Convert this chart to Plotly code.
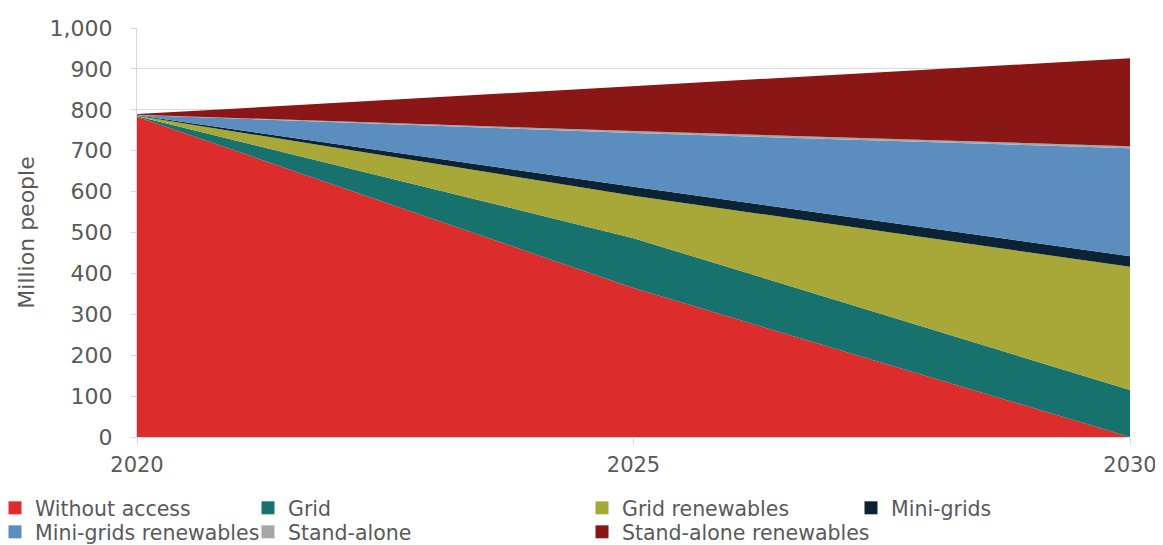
"""
Access to electricity outlook, 2020-2030 — stacked area by access pathway.
"""

import plotly.graph_objects as go

YEARS = [2020, 2025, 2030]

SERIES_NAMES = [
    "Without access",
    "Grid",
    "Grid renewables",
    "Mini-grids",
    "Mini-grids renewables",
    "Stand-alone",
    "Stand-alone renewables",
]

# million people
WITHOUT_ACCESS = [783, 364, 0]
GRID = [1.5, 122, 115]
GRID_RENEWABLES = [1, 104, 301]
MINI_GRIDS = [1, 22, 26]
MINI_GRIDS_RENEWABLES = [1, 131, 264]
STAND_ALONE = [0.5, 5, 5]
STAND_ALONE_RENEWABLES = [1.5, 109, 215]

Y_TICKS = [0, 100, 200, 300, 400, 500, 600, 700, 800, 900, 1000]
X_TICKS = [2020, 2025, 2030]

COLORS = ["#dc2c2c", "#17726d", "#a7a838", "#0b2335", "#5b8dbf", "#a6a6a6", "#8b1616"]

TEXT_COLOR = "#595959"
FONT = "DejaVu Sans"
# the page body has an 8px margin, so the figure is drawn 8px in from the corner
W, H = 1155, 537
L, R, T, B = 129, 33, 20, 108
PLOT_W = W - L - R

values = [
    WITHOUT_ACCESS,
    GRID,
    GRID_RENEWABLES,
    MINI_GRIDS,
    MINI_GRIDS_RENEWABLES,
    STAND_ALONE,
    STAND_ALONE_RENEWABLES,
]

fig = go.Figure()

for name, vals, color in zip(SERIES_NAMES, values, COLORS):
    fig.add_trace(
        go.Scatter(
            x=YEARS,
            y=vals,
            name=name,
            mode="lines",
            stackgroup="one",
            line=dict(width=0, color=color),
            fillcolor=color,
            showlegend=False,
            hovertemplate=f"{name}: %{{y:.0f}}<extra></extra>",
        )
    )

# legend grid: 4 columns x 2 rows, one small legend per entry
col_x = [-13, 240, 574, 843]  # px in figure, left edge of each column
row_top = [480, 504]           # px in figure, top of each row
legends = {}
for i, (name, color) in enumerate(zip(SERIES_NAMES, COLORS)):
    key = "legend" if i == 0 else f"legend{i + 1}"
    fig.add_trace(
        go.Scatter(
            x=[None],
            y=[None],
            name=name,
            mode="markers",
            marker=dict(symbol="square", size=13, color=color),
            showlegend=True,
            legend=key,
        )
    )
    legends[key] = dict(
        orientation="v",
        xref="paper",
        yref="container",
        xanchor="left",
        yanchor="top",
        x=(col_x[i % 4] - L) / PLOT_W,
        y=1 - row_top[i // 4] / H,
        itemwidth=30,
        font=dict(family=FONT, size=20.5, color=TEXT_COLOR),
        bgcolor="rgba(0,0,0,0)",
    )

fig.update_layout(
    width=W,
    height=H,
    template="plotly_white",
    plot_bgcolor="white",
    paper_bgcolor="white",
    font=dict(family=FONT, size=21, color=TEXT_COLOR),
    margin=dict(l=L, r=R, t=T, b=B, autoexpand=False),
    showlegend=True,
    **legends,
    xaxis=dict(
        range=[2020, 2030],
        tickvals=X_TICKS,
        ticktext=[str(t) for t in X_TICKS],
        showgrid=False,
        zeroline=False,
        showline=True,
        linecolor="#d9d9d9",
        linewidth=1,
        ticks="outside",
        ticklen=6,
        tickcolor="#d9d9d9",
        ticklabelstandoff=3,
        tickfont=dict(size=21, color=TEXT_COLOR),
    ),
    yaxis=dict(
        range=[0, 1000],
        tickvals=Y_TICKS,
        tickformat=",",
        showgrid=True,
        gridcolor="#d9d9d9",
        zeroline=False,
        showline=True,
        linecolor="#d9d9d9",
        linewidth=1,
        ticks="outside",
        ticklen=5,
        tickcolor="#d9d9d9",
        ticklabelstandoff=14,
        tickfont=dict(size=22, color=TEXT_COLOR),
        title=dict(text="Million people", font=dict(size=22, color=TEXT_COLOR), standoff=8),
    ),
)

fig.write_html("out.html")
